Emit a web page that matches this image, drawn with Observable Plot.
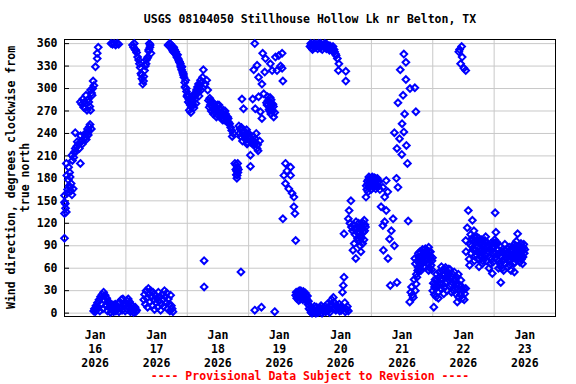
<!DOCTYPE html>
<html>
<head>
<meta charset="utf-8">
<script src="https://cdn.jsdelivr.net/npm/d3@7"></script>
<script src="https://cdn.jsdelivr.net/npm/@observablehq/plot@0.6"></script>
<style>
  html, body { margin: 0; padding: 0; background: #fff; }
  #chart { width: 576px; height: 384px; }
</style>
</head>
<body>
<div id="chart"></div>
<script>
// Chart text
const titleText = "USGS 08104050 Stillhouse Hollow Lk nr Belton, TX";
const yLabelLines = ["Wind direction, degrees clockwise from", "true north"];
const footerText = "---- Provisional Data Subject to Revision ----";

// Axis ticks
const yTicks = [0, 30, 60, 90, 120, 150, 180, 210, 240, 270, 300, 330, 360];
const labelDays = [16, 17, 18, 19, 20, 21, 22, 23];
const gridDays = [17, 18, 19, 20, 21, 22, 23];
const monthLabel = "Jan";
const yearLabel = "2026";

// Observations: [hour of day, wind direction in degrees], one array per day (Jan 2026)
const jan16 = [[0,100],[0,133],[0,148],[0,157],[0.3,146],[0.4,140],[0.7,135],[0.7,200],[0.9,184],[1,160],[1.2,165],[1.5,178],[1.6,195],[1.8,170],[2,188],[2.2,168],[2.2,182],[2.5,163],[2.6,173],[2.9,158],[2.9,211],[3.1,204],[3.4,166],[3.6,208],[3.8,215],[4.2,220],[4.2,241],[4.5,216],[4.8,223],[5,229],[5.5,226],[5.8,220],[6.2,200],[6.2,282],[6.3,237],[6.5,229],[6.8,279],[6.9,231],[7,226],[7.2,286],[7.5,275],[7.6,233],[7.8,239],[7.8,282],[8.1,274],[8.2,235],[8.4,291],[8.5,232],[8.8,271],[8.9,240],[9,246],[9.1,285],[9.3,238],[9.5,244],[9.5,282],[9.7,249],[9.9,276],[10,252],[10.2,271],[10.2,298],[10.5,246],[10.6,294],[10.8,291],[11,300],[11.2,310],[11.5,304],[12.1,329],[12.8,340],[12.8,347],[13.2,355],
  [11.4,3],[11.7,6],[12,2],[12.3,10],[12.6,5],[12.9,14],[13.2,8],[13.5,18],[13.8,3],[14.1,22],[14.4,12],[14.7,25],[15,6],[15.3,28],[15.6,17],[15.9,24],[16.2,10],[16.5,20],[16.8,3],[17.1,16],[17.4,8],[17.7,12],[18,1],[18.3,9],[18.6,4],[18.9,11],[19.2,2],[19.5,8],[19.8,12],[20.1,3],[20.4,10],[20.7,6],[21,13],[21.3,2],[21.6,15],[21.9,8],[22.2,18],[22.5,4],[22.8,19],[23.1,10],[23.4,14],[23.7,3],
  [18.2,360],[18.8,359],[19.4,360],[20,358],[20.6,360],[21.2,359]];
const jan17 = [[0,12],[0.3,17],[0.6,5],[0.9,19],[1.2,9],[1.5,15],[1.8,2],[2.1,11],[2.4,6],[2.7,9],[3,1],[3.3,5],[3.6,8],[3.9,2],[4.2,4],
  [2.6,358],[3,355],[3.3,360],[3.6,352],[3.9,351],[4.2,348],[4.6,342],[5,338],[5.3,333],[5.6,328],[5.9,320],[6.1,318],[6.3,313],[6.6,306],[6.9,310],[7,316],[7.3,324],[7.6,330],[7.9,333],[8,338],[8.3,340],[8.6,342],[8.9,350],[9,352],[9.2,360],[9.4,355],[9.5,358],[9.8,347],
  [7,18],[7.3,25],[7.6,12],[7.9,30],[8.2,20],[8.5,8],[8.8,33],[9.1,26],[9.4,15],[9.7,30],[10,22],[10.3,10],[10.6,28],[10.9,18],[11.2,5],[11.5,24],[11.8,14],[12.1,20],[12.4,8],[12.7,28],[13,16],[13.3,22],[13.6,4],[13.9,12],[14.2,25],[14.5,18],[14.8,9],[15.1,30],[15.4,22],[15.7,14],[16,27],[16.3,6],[16.6,19],[16.9,12],[17.2,3],[17.5,24],[17.8,10],[18.1,6],[18.4,2],
  [16.5,358],[16.8,357],[17.2,360],[17.5,359],[17.9,356],[18,353],[18.3,351],[18.5,349],[18.7,355],[19,352],[19.2,347],[19.5,349],[19.7,345],[19.9,342],[20.2,345],[20.4,340],[20.6,338],[20.9,336],[21,335],[21.3,333],[21.4,330],[21.6,328],[21.8,325],[21.9,329],[22.2,322],[22.4,320],[22.5,318],[22.7,315],[23,308],[23.1,302],[23.4,311],[23.6,300],[23.7,296],[23.9,290]];
const jan18 = [[0,289],[0.2,292],[0.4,282],[0.6,286],[0.8,271],[1,280],[1.2,278],[1.4,268],[1.6,275],[1.8,284],[2,283],[2.2,279],[2.4,290],[2.6,274],[2.8,293],[3,290],[3.2,286],[3.4,280],[3.6,298],[3.8,293],[4,302],[4.2,297],[4.4,306],[4.6,290],[4.8,300],[5,304],[5.2,311],[5.4,298],[5.6,308],[6,315],[6.3,325],[6.6,70],[6.6,35],[7,306],[7.6,311],[8,298],[8.3,284],[8.6,275],[8.8,287],[9,278],[9.2,283],[9.4,270],[9.6,277],[9.8,282],[10,272],[10.2,266],[10.4,280],[10.6,275],[10.8,268],[11,271],[11.2,276],[11.4,262],[11.6,270],[11.8,278],[12,264],[12.2,268],[12.4,278],[12.6,273],[12.8,268],[13,262],[13.2,272],[13.4,266],[13.6,260],[13.8,258],[14,266],[14.2,271],[14.4,258],[14.6,262],[14.8,270],[15,266],[15.2,262],[15.4,257],[15.6,255],[15.8,262],[16,260],[16.2,255],[16.6,253],[17,248],[17.4,244],[17.6,236],[18,240],[18.6,200],[19,192],[19.1,198],[19.2,185],[19.3,190],[19.4,180],[19.5,184],[19.6,195],[19.7,200],[19.8,188],[20,192],[20.2,250],[20.4,240],[20.6,246],[20.8,236],[21,55],[21.2,248],[21.4,286],[21.6,230],[21.8,242],[22,273],[22.2,244],[22.4,238],[22.6,236],[22.8,232],[23,240],[23.2,245],[23.4,226],[23.6,228],[23.8,235]];
const jan19 = [[0,240],[0.3,236],[0.5,232],[0.7,211],[0.7,196],[1,228],[1.3,231],[1.5,226],[1.6,286],[1.8,236],[2,325],[2.2,226],[2.4,360],[2.4,4],[2.6,273],[2.6,233],[2.8,228],[3,240],[3.3,331],[3.3,220],[3.5,225],[3.7,217],[3.9,315],[3.9,289],[4.3,230],[4.6,269],[5,8],[5.2,306],[5.2,260],[5.5,347],[5.9,293],[6.3,322],[6.6,340],[7,281],[7.2,278],[7.4,289],[7.6,284],[7.9,282],[8,272],[8.2,270],[8.4,288],[8.5,333],[8.5,275],[8.7,266],[8.8,285],[9,280],[9.2,324],[9.2,271],[9.4,270],[9.5,279],[9.7,276],[9.8,262],[10.2,2],[10.2,268],[10.5,342],[11.1,324],[11.8,344],[12.5,330],[13.1,347],[13.1,327],[13.4,310],[13.4,126],[13.8,184],[14.4,200],[14.4,173],[15,190],[15.7,166],[16.4,195],[16.4,184],[17,160],[17.7,155],[17.7,142],[18.1,133],[18.4,97],
  [18.4,24],[18.6,28],[18.8,20],[19,22],[19.2,28],[19.4,25],[19.6,17],[19.8,30],[20,24],[20.2,19],[20.4,30],[20.6,27],[20.8,22],[21,24],[21.2,18],[21.4,29],[21.6,26],[21.8,21],[22,20],[22.2,27],[22.4,24],[22.6,19],[22.8,17],[23,23],[23.2,12],[23.4,16],[23.6,6],[23.8,10]];
const jan20 = [[0,356],[0.3,360],[0.5,358],[0.7,354],[1,352],[1.2,357],[1.6,360],[1.8,355],[2.2,355],[2.4,359],[2.8,357],[3,353],[3.4,360],[3.6,357],[4,354],[4.2,360],[4.6,358],[4.8,352],[5.2,356],[5.4,358],[5.8,360],[6,355],[6.4,353],[6.6,359],[7,357],[7.2,354],[7.6,351],[7.8,357],[8.2,355],[8.4,352],[8.8,350],[9,356],[9.4,352],[9.6,349],[10,346],[10.2,344],[10.7,340],[11.1,324],[11.3,333],[14,323],[14,310],
  [0.2,4],[0.4,1],[0.8,0],[1.1,3],[1.3,6],[1.7,9],[1.9,2],[2.3,0],[2.5,8],[2.9,5],[3.1,1],[3.5,2],[3.7,5],[4.1,7],[4.3,10],[4.7,0],[4.9,3],[5.3,4],[5.5,7],[5.9,9],[6.1,2],[6.5,3],[6.7,12],[7.1,7],[7.3,4],[7.7,1],[7.9,9],[8.3,12],[8.5,18],[8.9,6],[9.1,21],[9.5,14],[9.7,6],[10.1,4],[10.3,11],[10.8,8],[11.4,12],[11.6,3],[12,8],[12.3,4],[12.7,28],[13,37],[13,6],[13.3,48],[13.6,14],[13.8,2],[14.3,5],[14.6,9],[15,3],
  [13.3,106],[15,126],[15.3,137],[15.6,120],[16,150],[16.2,115],[16.6,110],[16.8,84],[17,118],[17.3,93],[17.5,112],[17.6,105],[17.9,73],[18,122],[18.2,112],[18.4,108],[18.6,100],[18.8,97],[19,120],[19.2,114],[19.3,102],[19.6,90],[19.6,108],[19.9,82],[20,100],[20.2,116],[20.4,112],[20.6,93],[20.8,120],[20.9,108],[21.1,98],[21.2,124],[21.4,110],[21.5,118],[21.7,115],[21.9,155],
  [22,170],[22.2,165],[22.4,176],[22.5,172],[22.7,162],[22.8,178],[23,182],[23.1,168],[23.3,170],[23.4,180],[23.6,178],[23.7,174],[23.9,165]];
const jan21 = [[0,176],[0.2,172],[0.3,182],[0.5,178],[0.6,170],[0.8,168],[0.9,178],[1.1,181],[1.2,174],[1.4,176],[1.5,180],[1.7,166],[1.8,171],[2,172],[2.1,177],[2.3,180],[2.4,168],[2.6,170],[2.7,175],[3,176],[3.3,165],
  [3.8,142],[4.5,117],[4.5,168],[4.7,84],[5.2,122],[5.2,155],[5.8,137],[5.8,177],[6.4,162],[6.5,73],[7.1,99],[7.4,37],[7.8,110],[8.5,126],[9,90],[9,241],[9.8,180],[10,41],[10,220],[10.4,168],[10.4,281],[11,233],[11.3,325],[11.9,212],[12,253],[12.4,291],[12.7,346],[12.7,242],[13,266],[13.5,335],[13.5,312],[13.7,224],[14.1,200],[14.4,123],[15,15],[15.1,300],[15.4,28],[15.7,35],[16,24],[16.4,21],[16.7,45],[17,301],[17,73],[17.2,66],[17.2,30],[17.4,269],[17.5,39],
  [17.6,52],[17.8,48],[18,70],[18.1,57],[18.3,61],[18.4,80],[18.5,75],[18.7,58],[18.8,66],[19,82],[19.1,70],[19.3,64],[19.4,57],[19.6,76],[19.8,70],[20,85],[20.1,79],[20.3,68],[20.4,62],[20.6,80],[20.8,75],[21,62],[21.1,86],[21.3,78],[21.4,70],[21.6,74],[21.8,84],[22,80],[22.1,66],[22.3,72],[22.4,88],[22.4,57],[22.6,82],[22.8,75],[22.9,60],[23.1,82],[23.2,76],[23.4,64],[23.6,58],[23.7,70],[23.9,74]];
const jan22 = [[0,30],[0.2,40],[0.4,8],[0.6,25],[0.7,35],[0.9,45],[1,39],[1.2,33],[1.3,22],[1.5,52],[1.6,44],[1.8,36],[2,28],[2.2,20],[2.4,48],[2.6,55],[2.8,40],[3,45],[3.2,33],[3.4,62],[3.7,57],[3.8,38],[4,45],[4.2,50],[4.3,26],[4.5,34],[4.7,52],[4.9,58],[5,61],[5.2,48],[5.4,42],[5.6,30],[5.8,50],[6,54],[6.3,59],[6.4,44],[6.6,36],[6.8,58],[7,47],[7.2,38],[7.3,28],[7.6,48],[7.8,52],[8,40],[8.2,30],[8.4,55],[8.6,45],[8.8,32],[9,26],[9.2,39],[9.4,48],[9.6,15],[9.6,39],[9.8,32],[10,52],[10.2,21],[10.4,38],[10.8,25],[11,44],[11.2,36],[11.6,20],[11.8,30],[12,33],[12.3,18],[12.5,26],[12.9,33],
  [10.2,349],[10.5,352],[10.9,333],[11.3,356],[11.5,342],[12.2,327],[12.9,324],
  [12.9,97],[13,82],[13.5,114],[13.9,137],[14.2,72],[14.4,64],[14.6,92],[14.8,105],[15,80],[15.2,90],[15.4,100],[15.5,124],[15.7,85],[15.8,98],[16,95],[16.1,110],[16.3,70],[16.5,76],[16.7,100],[16.8,84],[17,78],[17.2,102],[17.4,95],[17.5,88],[17.7,82],[17.8,72],[18,100],[18.1,62],[18.3,86],[18.5,95],[18.7,75],[18.8,93],[19,98],[19.1,80],[19.3,84],[19.4,66],[19.6,70],[19.8,88],[20,92],[20.1,74],[20.3,86],[20.4,97],[20.6,78],[20.7,102],[21,70],[21.2,94],[21.4,79],[21.6,82],[21.7,90],[22,60],[22.2,74],[22.4,86],[22.6,66],[22.7,93],[23,72],[23.2,88],[23.3,53],[23.5,68],[23.7,80],[23.9,94]];
const jan23 = [[0,88],[0.2,98],[0.4,134],[0.6,80],[0.7,108],[0.9,95],[1,72],[1.2,78],[1.3,93],[1.5,85],[1.7,60],[1.9,70],[2,80],[2.2,90],[2.3,66],[2.5,62],[2.6,41],[2.8,82],[3,75],[3.2,60],[3.3,70],[3.5,80],[3.7,57],[3.9,72],[4,84],[4.2,92],[4.4,66],[4.6,74],[4.8,78],[5,86],[5.2,62],[5.4,70],[5.6,75],[5.8,80],[5.9,88],[6.1,64],[6.3,70],[6.5,84],[6.6,57],[6.8,76],[7,82],[7.2,88],[7.4,78],[7.6,66],[7.8,92],[7.9,55],[8.1,68],[8.2,75],[8.4,82],[8.5,90],[8.7,96],[8.8,72],[9,78],[9.2,106],[9.4,88],[9.5,80],[9.7,74],[9.8,84],[10,90],[10.1,68],[10.3,80],[10.5,93],[10.7,72],[10.8,76],[11,85],[11.1,66],[11.3,75],[11.4,88],[11.6,92],[11.8,80],[12,85]];

const dailyObs = [jan16, jan17, jan18, jan19, jan20, jan21, jan22, jan23];
const firstDay = 16;

const dayDate = (d, h = 0) => new Date(Date.UTC(2026, 0, d) + h * 3600e3);
const rows = dailyObs.flatMap((arr, i) => arr.map(([h, v]) => ({t: dayDate(firstDay + i, h), v})));
const noonTicks = labelDays.map(d => dayDate(d, 12));
const midnightGrid = gridDays.map(d => dayDate(d));

const font = "'DejaVu Sans Mono', monospace";

const chart = Plot.plot({
  width: 576,
  height: 384,
  marginLeft: 64,
  marginRight: 21,
  marginTop: 39,
  marginBottom: 68,
  style: {fontFamily: font, fontWeight: "bold", fontSize: "11.5px", color: "#000", background: "#fff", overflow: "visible"},
  x: {type: "utc", domain: [dayDate(16), dayDate(24)], label: null},
  y: {domain: [-4.5, 365.5], label: null},
  marks: [
    Plot.gridY(yTicks, {stroke: "#c8c8c8", strokeOpacity: 1, strokeWidth: 1}),
    Plot.gridX(midnightGrid, {stroke: "#c8c8c8", strokeOpacity: 1, strokeWidth: 1}),
    Plot.frame({stroke: "#000", strokeWidth: 1}),
    Plot.axisY(yTicks, {label: null, tickSize: 0, tickPadding: 7, tickFormat: d => String(d), fontWeight: "bold"}),
    Plot.axisY(yTicks, {label: null, tickSize: 5, tickPadding: 0, dx: 5, tickFormat: () => "", stroke: "#000"}),
    Plot.axisX(noonTicks, {label: null, tickSize: 0, tickPadding: 13, lineHeight: 1.2,
      tickFormat: d => `${monthLabel}\n${d.getUTCDate()}\n${yearLabel}`, fontWeight: "bold"}),
    Plot.dot(rows, {x: "t", y: "v", symbol: "diamond2", r: 3, stroke: "#0000ff", strokeWidth: 2, strokeLinejoin: "miter", fill: "none"})
  ]
});

document.getElementById("chart").appendChild(chart);

const svg = d3.select(chart);
svg.append("text")
  .attr("x", 310).attr("y", 23)
  .attr("text-anchor", "middle")
  .attr("font-family", font).attr("font-weight", "bold").attr("font-size", "11.5px")
  .attr("fill", "#000")
  .text(titleText);

yLabelLines.forEach((line, i) => {
  svg.append("text")
    .attr("transform", `translate(${11 + i * 14},177.5) rotate(-90)`)
    .attr("text-anchor", "middle")
    .attr("dy", "0.35em")
    .attr("font-family", font).attr("font-weight", "bold").attr("font-size", "11.5px")
    .attr("fill", "#000")
    .text(line);
});

svg.append("text")
  .attr("x", 310).attr("y", 380)
  .attr("text-anchor", "middle")
  .attr("font-family", font).attr("font-weight", "bold").attr("font-size", "11.5px")
  .attr("fill", "#ff0000")
  .text(footerText);
</script>
</body>
</html>
